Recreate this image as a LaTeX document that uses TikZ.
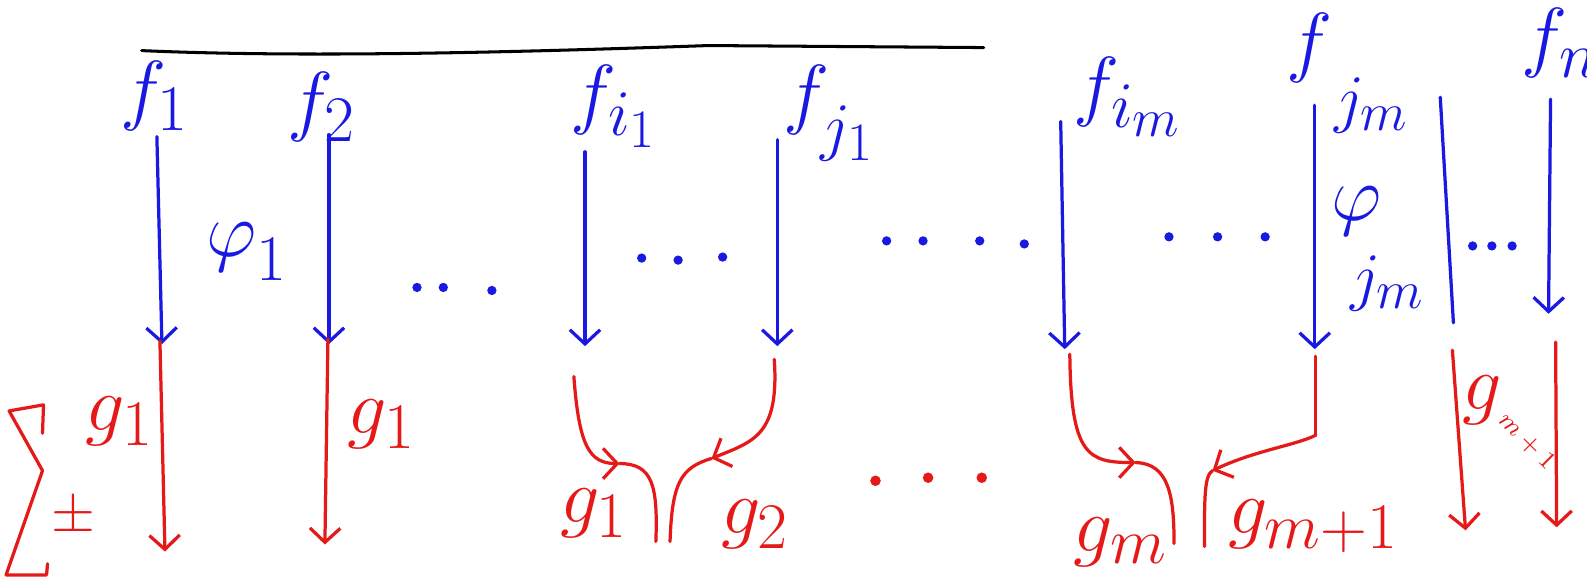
\documentclass[tikz,border=0pt]{standalone}
\usepackage{graphicx}
\usetikzlibrary{arrows.meta}
\definecolor{pen}{RGB}{25,25,225}
\definecolor{ink}{RGB}{230,25,25}
\begin{document}
\begin{tikzpicture}[x=0.5pt,y=-0.5pt,
  bl/.style={draw=pen,line width=1.6pt,line cap=round,line join=round},
  rd/.style={draw=ink,line width=1.6pt,line cap=round,line join=round},
  tip/.style={-{Straight Barb[length=7pt,width=15pt]}},
  bt/.style={text=pen,font=\Huge,scale=1.55,inner sep=0pt,anchor=base west},
  rt/.style={text=ink,font=\Huge,scale=1.55,inner sep=0pt,anchor=base west}]
\useasboundingbox (0,0) rectangle (1568,578);
% rule
\coordinate (ruleL) at (140,50);
\coordinate (ruleR) at (972,47);
\draw[line width=1.5pt,line cap=round] (ruleL) .. controls (300,57) and (500,52) .. (700,45) -- (ruleR);
% top labels
\node[bt] (f1) at (118,114) {$f_1$};
\node[bt] (f2) at (283,125) {$f_2$};
\node[bt] (fi1) at (563,118) {$f_{i_1}$};
\node[bt] (fj1) at (773,118) {$f_{\raisebox{-5.5pt}{$\scriptstyle j_1$}}$};
\node[bt] (fim) at (1060,110) {$f_{i_m}$};
\node[bt] (fjm) at (1270,67) {$f_{\raisebox{-13pt}{\hspace{3.4pt}$\scriptstyle j_m$}}$};
\node[bt] (fn) at (1503,62) {$f_{n+1}$};
\node[bt] (phi1) at (203,253) {$\varphi_{\raisebox{-4pt}{$\scriptstyle 1$}}$};
\node[bt] (phijm) at (1315,218) {$\varphi_{\raisebox{-21pt}{\hspace{-10pt}$\scriptstyle j_m$}}$};
% blue arrows
\coordinate (a1t) at (155,135); \coordinate (a1b) at (160,340);
\coordinate (a2t) at (325,133); \coordinate (a2b) at (325,340);
\coordinate (a3t) at (578,150); \coordinate (a3b) at (578,342);
\coordinate (a4t) at (768,138); \coordinate (a4b) at (768,342);
\coordinate (a5t) at (1048,120); \coordinate (a5b) at (1052,345);
\coordinate (a6t) at (1299,104); \coordinate (a6b) at (1299,345);
\coordinate (l7t) at (1423,96); \coordinate (l7b) at (1436,319);
\coordinate (a8t) at (1532,98); \coordinate (a8b) at (1530,310);
\foreach \n in {1,2,3,4,5,6,8} \draw[bl,tip] (a\n t) -- (a\n b);
\draw[bl] (l7t) -- (l7b);
% blue dots
\foreach \p in {(412,284),(438,284),(486,287),(634,255),(670,257),(714,254),
  (876,238),(912,238),(968,238),(1012,241),(1155,234),(1203,234),(1250,234),
  (1455,243),(1474,243),(1494,243)}
  \fill[pen] \p circle[radius=2.3pt];
% red arrows
\coordinate (r1t) at (158,337); \coordinate (r1b) at (163,545);
\coordinate (r2t) at (324,335); \coordinate (r2b) at (321,538);
\coordinate (r9t) at (1435,346); \coordinate (r9b) at (1448,524);
\coordinate (r10t) at (1537,338); \coordinate (r10b) at (1538,521);
\foreach \n in {1,2,9,10} \draw[rd,tip] (r\n t) -- (r\n b);
% merging curves
\coordinate (c1t) at (567,372); \coordinate (c1m) at (612,458); \coordinate (c1b) at (648,535);
\coordinate (c2t) at (765,355); \coordinate (c2m) at (703,453); \coordinate (c2b) at (662,535);
\coordinate (c3t) at (1057,350); \coordinate (c3m) at (1122,457); \coordinate (c3b) at (1160,537);
\coordinate (c4t) at (1300,352); \coordinate (c4m) at (1198,465); \coordinate (c4b) at (1190,540);
\coordinate (c4k) at (1300,430);
\draw[rd,tip] (c1t) .. controls (572,440) and (582,458) .. (c1m);
\draw[rd] (c1m) .. controls (645,458) and (650,480) .. (c1b);
\draw[rd,tip] (c2t) .. controls (770,430) and (745,436) .. (c2m);
\draw[rd] (c2m) .. controls (672,462) and (664,478) .. (c2b);
\draw[rd,tip] (c3t) .. controls (1058,450) and (1075,457) .. (c3m);
\draw[rd] (c3m) .. controls (1155,458) and (1160,490) .. (c3b);
\draw[rd] (c4t) -- (c4k);
\draw[rd,tip] (c4k) .. controls (1280,440) and (1240,445) .. (c4m);
\draw[rd] (c4m) .. controls (1190,470) and (1190,490) .. (c4b);
% red dots
\foreach \p in {(865,475),(917,472),(970,472)}
  \fill[ink] \p circle[radius=2.6pt];
% red labels
\node[rt] (g1a) at (84,425) {$g_1$};
\node[rt] (g1b) at (343,428) {$g_1$};
\node[rt] (g1c) at (553,516) {$g_1$};
\node[rt] (g2) at (712,527) {$g_2$};
\node[rt] (gm) at (1060,545) {$g_m$};
\node[rt] (gm1) at (1213,527) {$g_{m+1}$};
\node[rt] (gm1r) at (1444,405) {$g_{\hspace{-1pt}\rotatebox{-45}{\fontsize{8}{9}\selectfont$m+1$}}$};
% sum sign
\draw[rd] (42,428) -- (43,400) -- (9,406) -- (42,465) -- (6,568) -- (46,568) -- (47,557);
\node[text=ink,font=\Huge,scale=1.12,inner sep=0pt] (pm) at (73,511) {$\pm$};
\end{tikzpicture}
\end{document}
